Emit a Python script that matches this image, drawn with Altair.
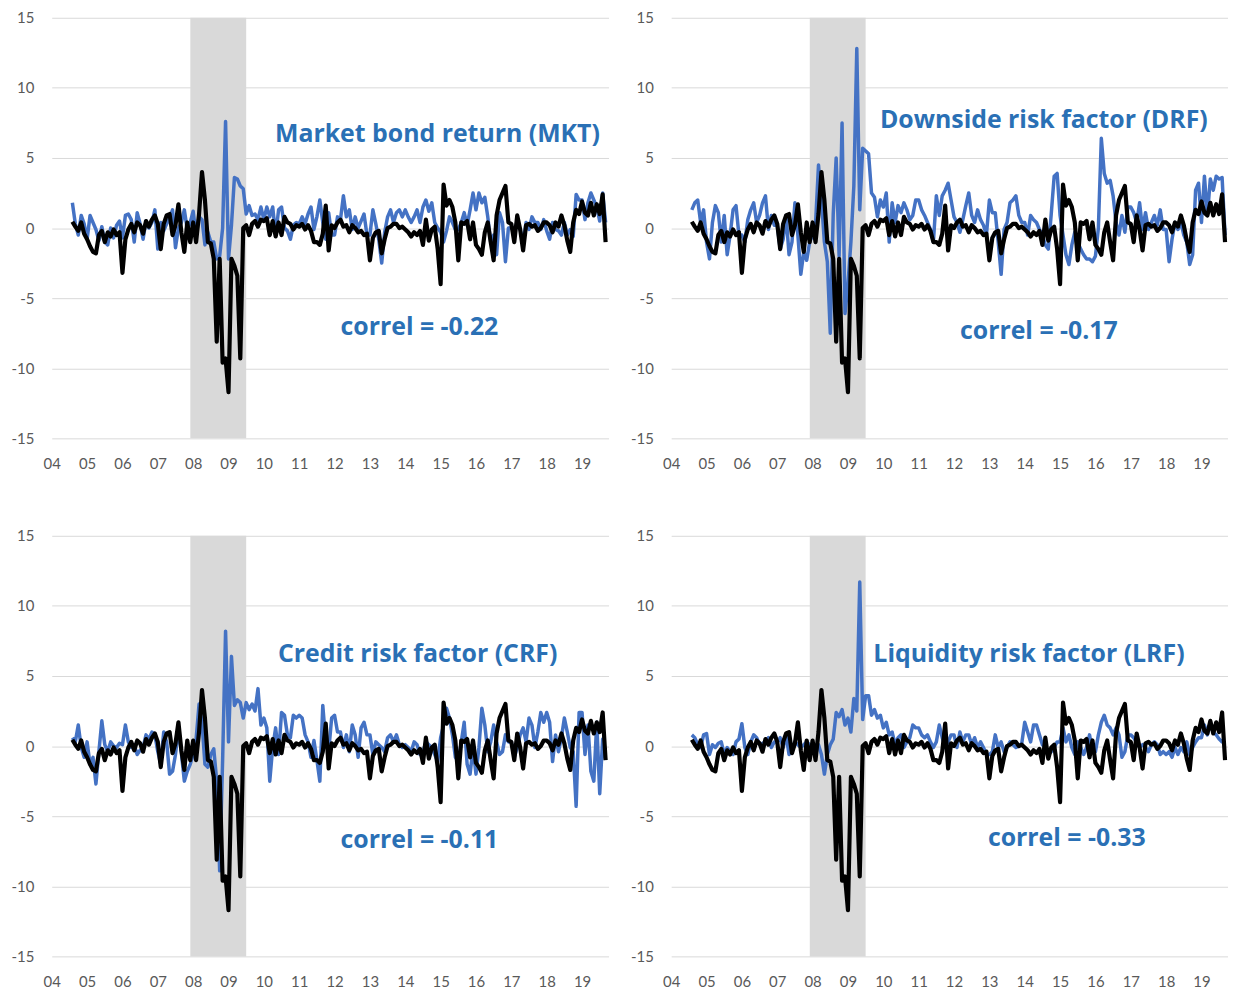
import altair as alt
import pandas as pd

# Monthly observations, Aug-2004 .. Sep-2019
START_YEAR = 2004
START_MONTH = 8

# black series (common to all four panels)
black = (
    [0.45, 0.1, -0.2, 0.4, -0.4]
    + [-0.8, -1.3, -1.7, -1.8, -0.5, -0.2, -1.0, -0.3, -0.6, -0.1, -0.5, -0.3]
    + [-3.2, -0.8, -0.1, 0.3, -0.3, 0.4, 0.2, -0.4, 0.5, 0.1, 0.6, 0.9]
    + [0.3, -1.5, 0.3, 0.9, 1.0, -0.5, 0.2, 1.7, -0.3, -1.7, 0.4, -1.0]
    + [0.4, -1.0, 1.0, 4.0, 2.0, -1.0, -1.1, -2.2, -8.1, -2.2, -9.6, -9.3]
    + [-11.7, -2.2, -2.7, -3.4, -9.3, 0.0, 0.2, -0.5, 0.3, 0.5, 0.1, 0.6]
    + [0.5, 0.7, -0.5, 0.5, -0.6, 0.4, -0.5, 0.8, 0.4, 0.3, -0.1, 0.2]
    + [0.1, 0.3, -0.1, 0.2, -0.2, -1.0, -1.0, -1.2, -0.4, 1.6, -1.6, 0.2]
    + [0.0, 0.4, 0.6, 0.1, 0.2, -0.3, 0.2, 0.0, -0.3, -0.2, -0.5, -0.4]
    + [-2.3, -0.7, -0.3, -0.2, -1.8, -0.8, 0.0, 0.1, 0.3, 0.3, 0.0, 0.1]
    + [-0.1, -0.3, -0.6, -0.3, -0.5, -0.2, -1.2, 0.6, -0.9, -0.1, 0.1, -1.5]
    + [-4.0, 3.1, 1.6, 2.0, 1.5, 0.4, -2.3, 0.4, 0.3, 0.5, -0.8, 0.4]
    + [-1.2, -1.5, -1.9, -0.3, 0.4, -1.0, -2.3, 0.9, 2.0, 2.5, 3.0, 0.4]
    + [0.3, -1.0, 0.9, -0.1, -1.6, 0.2, 0.3, 0.1, 0.2, -0.2, 0.0, 0.4]
    + [0.4, 0.2, -0.3, 0.4, 0.1, 0.9, 0.2, -0.9, -1.7, 0.4, 1.3, 1.0]
    + [1.9, 1.1, 0.9, 1.8, 0.9, 1.7, 1.0, 2.4, -1.0]
)

mkt = (
    [1.8, 0.3, -0.5, 0.9, 0.3]
    + [-0.8, 0.9, 0.4, -0.1, -0.9, 0.1, -1.0, -1.2, 0.0, -0.7, 0.2, 0.5]
    + [-0.7, 0.9, 1.0, 0.6, -1.0, 1.1, 0.3, -0.8, 0.5, 0.0, 0.4, 1.3]
    + [-1.5, 0.4, -0.2, 0.3, 0.7, 1.3, -1.4, 0.0, 0.4, 1.3, -0.1, 0.4]
    + [1.2, -0.5, 0.8, 0.6, -1.2, -0.3, -1.0, -1.0, -2.2, -2.0, 0.0, 7.6]
    + [-2.2, 0.2, 3.6, 3.5, 3.0, 2.8, 1.0, 1.6, 0.9, 1.0, 0.6, 1.5]
    + [0.6, 1.5, 0.8, 1.5, -0.5, 1.3, 1.5, 0.0, -0.2, -0.8, 0.2, 0.4]
    + [0.3, 0.8, 0.3, 1.0, 1.5, -0.1, 0.8, 2.0, 0.4, -0.8, 1.1, -0.5]
    + [-0.5, 0.8, 0.6, 2.3, 0.8, 1.3, -0.1, 0.8, 0.0, 0.5, 1.0, -0.5]
    + [-0.5, 1.3, 0.3, -0.8, -2.5, -0.3, 0.8, 1.3, 0.4, 1.1, 1.3, 0.8]
    + [1.3, 0.8, 0.4, 0.8, 1.3, 0.4, 1.5, 2.0, 1.2, 1.8, 0.4, 0.0]
    + [-0.3, -1.0, -0.2, 0.8, 0.4, -0.1, -0.1, 0.4, 1.1, 0.2, 1.3, 2.5]
    + [1.3, 2.5, 1.8, 2.2, 0.8, -1.0, -0.5, -1.9, 1.1, 0.4, -2.4, 0.0]
    + [0.0, -0.1, 0.4, -0.1, -1.0, 0.4, -0.1, 0.8, 0.4, 0.4, -0.1, 0.6]
    + [-0.2, -0.8, 0.4, -0.1, -0.2, -0.5, 0.4, -0.5, -0.1, -0.6, 2.4, 2.0]
    + [2.0, 0.6, 1.8, 2.5, 2.0, 1.5, 0.5, 2.5, 0.4]
)

drf = (
    [1.3, 1.8, 2.0, 0.4, 1.3]
    + [-1.0, -2.2, 0.4, 1.6, 1.1, -1.0, 0.9, -1.9, -0.5, 1.3, 1.6, -0.5]
    + [-0.5, -1.0, 0.6, 1.3, 1.8, 0.4, 0.9, 1.8, 2.3, -0.1, 0.9, 0.2]
    + [0.2, -1.5, -0.8, 0.9, -1.9, -1.0, 1.8, -0.5, -3.3, -1.7, -2.3, -1.0]
    + [-0.5, 0.3, 4.5, 2.0, -1.0, -2.4, -7.5, 1.0, 5.0, -2.0, 7.5, -6.1]
    + [-4.0, -1.0, 3.0, 12.8, 1.3, 5.7, 5.5, 5.3, 2.5, 2.2, 0.8, 2.0]
    + [1.5, 2.5, -1.0, 1.8, 0.4, 1.6, 1.1, 1.8, 1.3, 0.6, 0.9, 2.0]
    + [2.0, 1.3, 0.9, 0.4, -0.1, -1.0, 2.3, 0.9, 2.3, 2.7, 3.2, 2.0]
    + [0.8, 0.4, -0.3, 0.6, 1.6, 2.5, 0.9, 0.4, 1.3, 0.6, 0.2, -0.5]
    + [2.0, 1.1, 1.1, -1.0, -3.3, -0.1, 0.4, 1.8, 2.0, 2.3, 0.9, 0.4]
    + [0.4, -0.5, 0.9, 0.6, 0.4, -0.1, -0.5, -1.2, -1.5, 1.0, 3.7, 3.9]
    + [0.9, -0.5, -1.9, -2.6, -1.2, -0.3, -1.0, -1.5, -1.9, -2.2, -2.2, -2.4]
    + [-2.0, 0.0, 6.4, 3.9, 3.2, 3.4, 2.3, 0.4, -0.5, 0.9, -0.3, 1.5]
    + [1.5, 1.1, 0.4, 1.8, -0.1, 1.1, -0.1, 0.4, 0.9, 0.2, 1.3, -0.1]
    + [-0.1, -2.4, -0.8, 0.4, -0.1, 0.4, -0.5, -1.0, -2.6, -1.9, 2.7, 3.2]
    + [0.4, 3.7, 0.9, 3.5, 2.7, 3.7, 3.5, 3.6, -0.5]
)

crf = (
    [0.6, 0.3, 1.5, -0.1, -0.8]
    + [0.3, -1.3, -0.8, -2.7, -0.4, 1.8, 0.1, -0.4, 0.3, 0.0, -0.1, 0.2]
    + [0.1, 1.5, 0.3, -0.1, 0.1, -0.6, -0.3, -0.1, 0.8, 0.5, 1.0, 0.8]
    + [-0.4, -1.3, 1.0, 0.3, -2.0, -1.8, -0.6, 1.3, -0.5, -2.5, -1.8, -1.3]
    + [-0.6, 0.5, 3.0, 1.7, -1.3, -1.5, -0.6, -0.2, -2.5, -8.9, -1.0, 8.2]
    + [0.3, 6.4, 2.9, 3.3, 3.1, 2.0, 3.1, 2.6, 3.0, 2.5, 4.1, 1.5]
    + [2.0, 1.3, -2.5, -0.1, 1.3, -0.6, 2.4, 2.2, 0.8, 0.6, 2.2, 2.0]
    + [2.2, 2.0, 0.8, 0.3, -0.8, 0.4, -1.0, -2.5, 2.9, 0.3, -0.4, 2.0]
    + [2.2, 1.0, 1.0, -0.1, 0.8, -0.4, 1.5, 0.8, -0.8, 1.3, 1.7, 0.8]
    + [0.8, -0.6, 0.3, 0.1, -0.1, -0.4, 0.6, 0.8, 0.3, 0.8, 0.1, -0.1]
    + [0.1, -0.1, -0.4, 0.3, 0.1, -0.6, -0.4, 0.3, 0.1, -0.1, -0.6, -1.1]
    + [0.6, 1.5, 2.7, 2.0, 0.8, -0.8, -1.1, 0.3, 1.7, -1.3, -2.0, -0.1]
    + [-2.0, -0.1, 2.7, 1.5, -0.4, 0.3, 1.5, 0.3, -0.6, -0.4, 0.8, 0.3]
    + [0.3, -0.8, -0.1, 0.8, 1.3, 0.3, 2.0, 1.5, -0.1, 1.0, 2.4, 1.7]
    + [2.4, 1.7, -1.1, 0.8, -0.4, 0.6, 2.0, 1.0, -0.1, -0.4, -4.3, 2.4]
    + [2.4, -0.6, 1.5, -1.8, -2.5, 1.7, -3.4, 0.5, -1.0]
)

lrf = (
    [0.8, 0.6, 0.1, -0.1, 0.8]
    + [0.9, -0.6, 0.1, -0.1, 0.2, 0.3, -0.6, -0.1, -0.4, -0.6, 0.3, 0.5]
    + [1.6, -0.1, -0.6, 0.3, 0.8, 0.6, 0.1, 0.2, 0.3, 0.6, -0.1, 0.3]
    + [0.3, 0.6, -0.1, 0.8, -0.6, -0.1, 0.3, 0.1, -0.1, 0.1, 0.3, 0.1]
    + [0.1, -0.1, 0.1, -0.6, -2.0, -0.6, 0.1, 0.5, 2.4, 2.1, 2.6, 1.5]
    + [2.0, 1.0, 3.4, 2.5, 11.7, 1.9, 3.6, 3.6, 2.2, 2.6, 2.0, 2.2]
    + [1.3, 1.7, 0.8, 1.0, 0.1, 0.6, 0.8, -0.1, 0.3, 0.6, 1.5, 1.3]
    + [1.3, 0.8, 0.6, 0.8, 0.3, -0.1, 0.3, 1.5, 0.6, -0.1, 0.3, 0.8]
    + [0.8, -0.1, 1.0, 0.3, 0.8, 0.8, 0.1, 0.6, -0.1, 0.3, -0.1, -0.6]
    + [-0.6, -0.4, 0.8, -0.1, 0.3, -0.4, -0.1, 0.3, 0.1, -0.1, 0.0, 0.2]
    + [1.7, 1.0, 0.3, 1.5, 1.5, 0.8, 0.1, -0.1, -0.6, -0.4, -0.1, 0.3]
    + [0.3, 1.3, 0.3, 0.8, -0.1, -0.6, 0.3, -0.1, -0.6, -0.1, 0.8, -0.4]
    + [-0.4, 0.8, 1.7, 2.2, 1.5, 1.3, 0.8, 1.3, 0.8, -0.8, -0.4, 0.8]
    + [0.8, 0.6, 0.3, -0.1, 0.1, -0.1, -0.4, 0.1, 0.3, 0.1, -0.6, -0.4]
    + [-0.6, -0.4, -0.8, -0.1, -0.6, -0.1, -0.4, 0.3, -0.6, -0.1, 0.3, 0.6]
    + [0.6, 1.5, 0.8, 1.7, 1.0, 0.8, 0.5, 0.3, 0.3]
)

titles = ["Market bond return (MKT)", "Downside risk factor (DRF)",
          "Credit risk factor (CRF)", "Liquidity risk factor (LRF)"]
correls = ["correl = -0.22", "correl = -0.17", "correl = -0.11", "correl = -0.33"]
title_pos = [(2014.91, 6.71), (2014.54, 7.69), (2014.35, 6.59), (2014.12, 6.59)]
correl_pos = [(2014.4, -7.06), (2014.4, -7.34), (2014.4, -6.73), (2015.19, -6.59)]
recession = (2007.92, 2009.5)
year_ticks = list(range(2004, 2020))
y_ticks = [-15, -10, -5, 0, 5, 10, 15]

n = len(black)
t = [START_YEAR + (START_MONTH - 1 + i) / 12 for i in range(n)]

BLUE = "#4472C4"
TEXT_BLUE = "#2A70B5"
FONT = "Lato"
TFONT = "Open Sans"
W, H = 560, 423

xscale = alt.Scale(domain=[2004, 2019.75], nice=False, zero=False)
yscale = alt.Scale(domain=[-15, 15], nice=False, zero=False)
xaxis = alt.Axis(values=year_ticks, labelExpr="substring(toString(datum.value), 2, 4)",
                 grid=False, domain=False, ticks=False, labelPadding=18,
                 labelFlush=False, labelOverlap=False,
                 labelFontSize=15, labelColor="#595959", labelFont=FONT,
                 minExtent=34, maxExtent=34, title=None)
yaxis = alt.Axis(values=y_ticks, labelExpr="toString(datum.value)",
                 grid=True, gridColor="#D9D9D9", gridWidth=1,
                 domain=False, ticks=False, labelPadding=18, labelFontSize=15,
                 labelColor="#595959", labelFont=FONT, minExtent=44, maxExtent=44,
                 title=None)


def panel(blue, title, tpos, correl, cpos):
    df = pd.DataFrame({"t": t, "blue": blue, "black": black})
    band_df = pd.DataFrame({"x0": [recession[0]], "x1": [recession[1]],
                            "y0": [-15], "y1": [15]})
    band = alt.Chart(band_df).mark_rect(color="#D9D9D9").encode(
        x=alt.X("x0:Q", scale=xscale, axis=xaxis), x2="x1:Q",
        y=alt.Y("y0:Q", scale=yscale, axis=yaxis), y2="y1:Q")
    base = alt.Chart(df)
    blue_line = base.mark_line(color=BLUE, strokeWidth=3.5, strokeJoin="round").encode(
        x=alt.X("t:Q", scale=xscale, axis=xaxis),
        y=alt.Y("blue:Q", scale=yscale, axis=yaxis))
    black_line = base.mark_line(color="black", strokeWidth=4.2, strokeJoin="round").encode(
        x=alt.X("t:Q", scale=xscale, axis=xaxis),
        y=alt.Y("black:Q", scale=yscale, axis=yaxis))
    txt_df = pd.DataFrame({"x": [tpos[0], cpos[0]], "y": [tpos[1], cpos[1]],
                           "label": [title, correl]})
    txt = alt.Chart(txt_df).mark_text(font=TFONT, fontSize=25, fontWeight="bold",
                                      color=TEXT_BLUE, align="center",
                                      baseline="middle").encode(
        x=alt.X("x:Q", scale=xscale, axis=xaxis),
        y=alt.Y("y:Q", scale=yscale, axis=yaxis),
        text="label:N")
    return alt.layer(band, blue_line, black_line, txt).properties(width=W, height=H)


panels = [panel(b, ti, tp, c, cp) for b, ti, tp, c, cp in
          zip([mkt, drf, crf, lrf], titles, title_pos, correls, correl_pos)]

row1 = alt.hconcat(panels[0], panels[1], spacing=19)
row2 = alt.hconcat(panels[2], panels[3], spacing=19)
chart = alt.vconcat(row1, row2, spacing=57).properties(
    padding=0, background="white"
).configure_view(stroke=None)

chart.save("out.html", embed_options={"renderer": "svg", "actions": False})
